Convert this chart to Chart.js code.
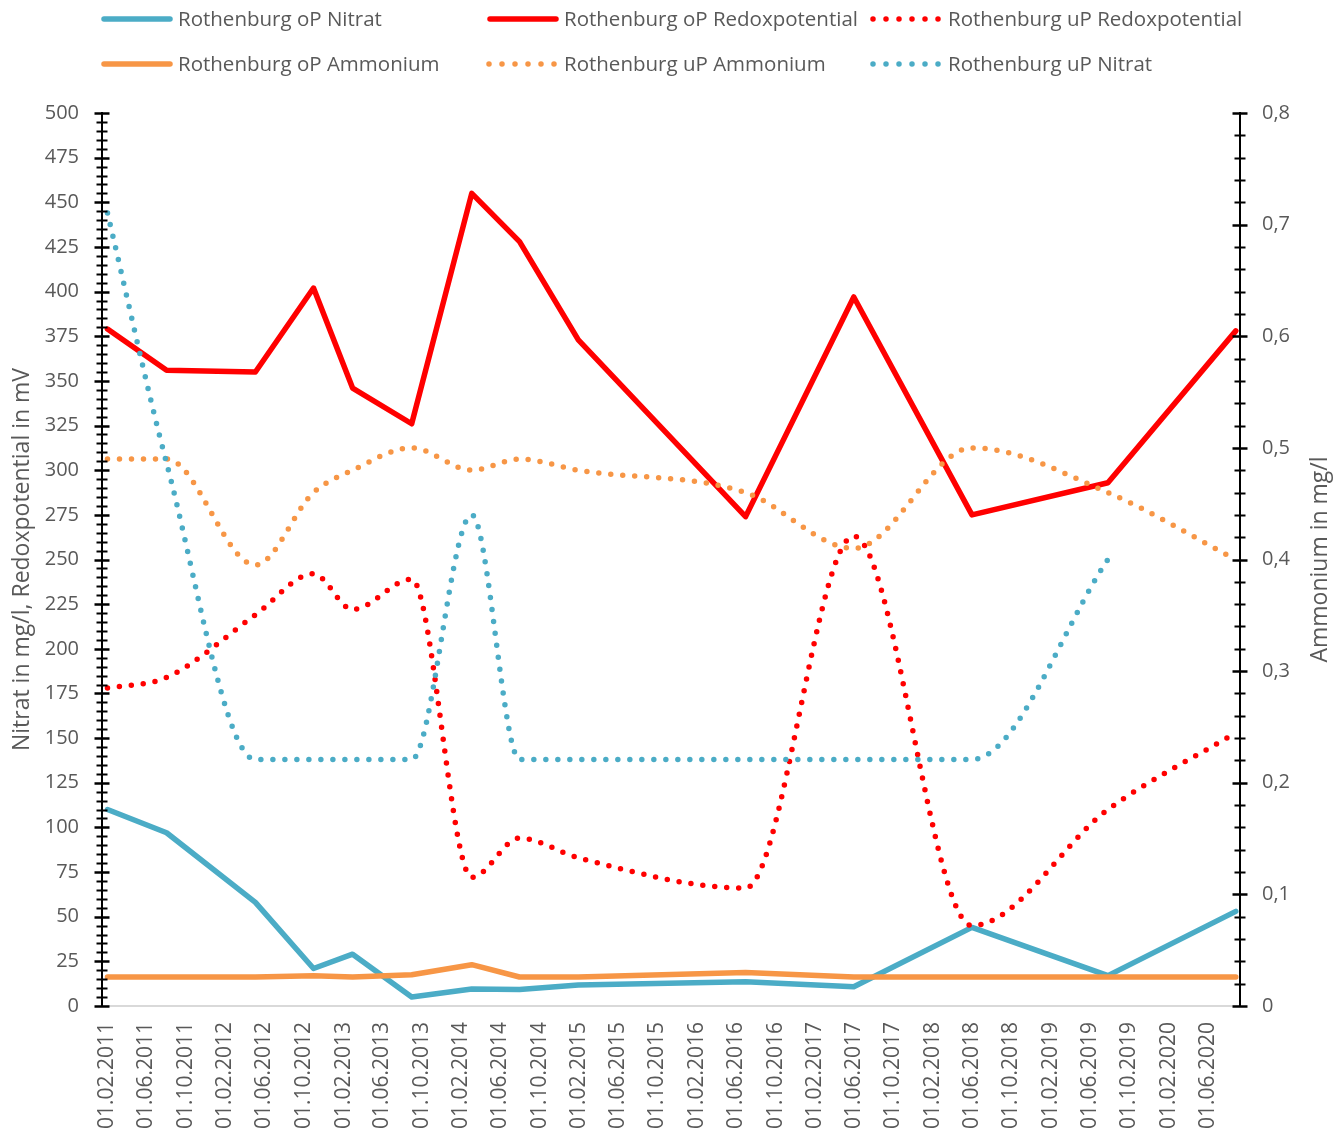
<!DOCTYPE html>
<html>
<head>
<meta charset="utf-8">
<script src="https://cdn.jsdelivr.net/npm/chart.js@4.4.1/dist/chart.umd.min.js"></script>
<style>
html,body{margin:0;padding:0;background:#ffffff;}
canvas{display:block;}
</style>
</head>
<body>
<canvas id="c" width="1343" height="1133"></canvas>
<script>
// ---------- DATA ----------
const sampleDates = ["01.02.2011","03.08.2011","04.05.2012","31.10.2012","01.03.2013","31.08.2013","05.03.2014","31.07.2014","29.01.2015","30.06.2016","31.05.2017","01.06.2018","27.07.2019","26.08.2020"];
const tickDates = ["01.02.2011","01.06.2011","01.10.2011","01.02.2012","01.06.2012","01.10.2012","01.02.2013","01.06.2013","01.10.2013","01.02.2014","01.06.2014","01.10.2014","01.02.2015","01.06.2015","01.10.2015","01.02.2016","01.06.2016","01.10.2016","01.02.2017","01.06.2017","01.10.2017","01.02.2018","01.06.2018","01.10.2018","01.02.2019","01.06.2019","01.10.2019","01.02.2020","01.06.2020"];
const axisStartDate = "15.01.2011";
const axisEndDate = "08.09.2020";

const seriesNames = ["Rothenburg oP Nitrat","Rothenburg oP Redoxpotential","Rothenburg uP Redoxpotential","Rothenburg oP Ammonium","Rothenburg uP Ammonium","Rothenburg uP Nitrat"];
const opNitrat = [110, 97, 58, 21, 29, 5, 9.5, 9.3, 11.8, 13.6, 10.8, 44, 17, 53];
const opRedox = [379, 356, 355, 402, 346, 326, 455, 428, 373, 274, 397, 275, 293, 378];
const upRedox = [178, 184, 219, 242, 222, 239, 72, 94, 83, 66, 263, 45, 110, 153];
const opAmmonium = [0.026, 0.026, 0.026, 0.027, 0.026, 0.028, 0.037, 0.026, 0.026, 0.030, 0.026, 0.026, 0.026, 0.026];
const upAmmonium = [0.49, 0.49, 0.395, 0.46, 0.48, 0.50, 0.48, 0.49, 0.48, 0.46, 0.41, 0.50, 0.46, 0.40];
const upNitrat = [444, 304, 138, 138, 138, 138, 275, 138, 138, 138, 138, 138, 250, null];

// ---------- HELPERS ----------
const BASE = Date.UTC(2011, 1, 1);
function dayNum(s) {
  const p = s.split('.').map(Number);
  return Math.round((Date.UTC(p[2], p[1] - 1, p[0]) - BASE) / 86400000);
}
const tickLabelByDay = {};
tickDates.forEach(d => { tickLabelByDay[dayNum(d)] = d; });
function pts(arr) {
  return sampleDates.map((d, i) => ({ x: dayNum(d), y: arr[i] }));
}

const BLUE = '#4BACC6', RED = '#FF0000', ORANGE = '#F79646';
const TXT = '#595959';
const FONT = "'Open Sans', 'Noto Sans', sans-serif";

function ds(label, arr, color, dotted, axis, order) {
  return {
    label: label,
    data: pts(arr),
    yAxisID: axis,
    borderColor: color,
    backgroundColor: color,
    borderWidth: 5.5,
    borderDash: dotted ? [0, 12] : [],
    borderCapStyle: 'round',
    borderJoinStyle: 'round',
    cubicInterpolationMode: dotted ? 'monotone' : 'default',
    tension: dotted ? 0.4 : 0,
    pointRadius: 0,
    pointHoverRadius: 0,
    fill: false,
    spanGaps: false,
    order: order,
    _dotted: dotted
  };
}

const datasets = [
  ds(seriesNames[0], opNitrat, BLUE, false, 'y', 6),
  ds(seriesNames[1], opRedox, RED, false, 'y', 5),
  ds(seriesNames[2], upRedox, RED, true, 'y', 4),
  ds(seriesNames[3], opAmmonium, ORANGE, false, 'y1', 3),
  ds(seriesNames[4], upAmmonium, ORANGE, true, 'y1', 2),
  ds(seriesNames[5], upNitrat, BLUE, true, 'y', 1)
];

// ---------- PLUGINS ----------
const legendPlugin = {
  id: 'excelLegend',
  afterDraw(chart) {
    const ctx = chart.ctx;
    const colX = [101, 487, 871];
    const rowY = [19, 64];
    ctx.save();
    chart.data.datasets.forEach((d, i) => {
      const col = i % 3, row = Math.floor(i / 3);
      const x = colX[col], y = rowY[row];
      ctx.beginPath();
      ctx.strokeStyle = d.borderColor;
      ctx.lineWidth = 5.5;
      ctx.lineCap = 'round';
      if (d._dotted) {
        ctx.setLineDash([0, 13]);
        ctx.moveTo(x + 2, y);
        ctx.lineTo(x + 68, y);
      } else {
        ctx.setLineDash([]);
        ctx.moveTo(x + 3, y);
        ctx.lineTo(x + 69, y);
      }
      ctx.stroke();
      ctx.setLineDash([]);
      ctx.fillStyle = TXT;
      ctx.font = "20.5px " + FONT;
      ctx.textAlign = 'left';
      ctx.textBaseline = 'middle';
      ctx.fillText(d.label, x + 77, y + 1);
    });
    ctx.restore();
  }
};

const axisDecor = {
  id: 'axisDecor',
  afterDraw(chart) {
    const ctx = chart.ctx;
    const y = chart.scales.y, y1 = chart.scales.y1;
    const xl = chart.chartArea.left, xr = chart.chartArea.right;
    ctx.save();
    ctx.strokeStyle = '#000000';
    ctx.setLineDash([]);
    ctx.lineCap = 'butt';
    for (let k = 0; k <= 100; k++) {
      const v = k * 5;
      const p = Math.round(y.getPixelForValue(v)) + 0.5;
      const major = (k % 5 === 0);
      const L = major ? 7.5 : 5.5;
      ctx.lineWidth = major ? 2.5 : 2;
      ctx.beginPath();
      ctx.moveTo(xl - L, p);
      ctx.lineTo(xl + L, p);
      ctx.stroke();
    }
    for (let k = 0; k <= 40; k++) {
      const v = k * 0.02;
      const p = Math.round(y1.getPixelForValue(v)) + 0.5;
      const major = (k % 5 === 0);
      const L = major ? 7.5 : 5.5;
      ctx.lineWidth = major ? 2.5 : 2;
      ctx.beginPath();
      ctx.moveTo(xr - L, p);
      ctx.lineTo(xr + L, p);
      ctx.stroke();
    }
    // right axis title (reads bottom to top)
    ctx.fillStyle = TXT;
    ctx.font = "23px " + FONT;
    ctx.textAlign = 'center';
    ctx.textBaseline = 'middle';
    ctx.translate(1320, (chart.chartArea.top + chart.chartArea.bottom) / 2);
    ctx.rotate(-Math.PI / 2);
    ctx.fillText('Ammonium in mg/l', 0, 0);
    ctx.restore();
  }
};

// ---------- CHART ----------
new Chart(document.getElementById('c'), {
  type: 'line',
  data: { datasets: datasets },
  options: {
    responsive: false,
    devicePixelRatio: 1,
    animation: false,
    events: [],
    layout: { padding: { top: 113, left: 0, right: 0, bottom: 0 } },
    plugins: {
      legend: { display: false },
      tooltip: { enabled: false },
      title: { display: false }
    },
    scales: {
      x: {
        type: 'linear',
        min: dayNum(axisStartDate),
        max: dayNum(axisEndDate),
        offset: false,
        grid: { display: false, drawTicks: false },
        border: { display: true, color: '#D9D9D9', width: 2 },
        afterBuildTicks: (scale) => {
          scale.ticks = tickDates.map(d => ({ value: dayNum(d) }));
        },
        afterFit: (scale) => { scale.height = 127; },
        ticks: {
          autoSkip: false,
          minRotation: 90,
          maxRotation: 90,
          padding: 16,
          color: TXT,
          font: { family: FONT, size: 21 },
          callback: (v) => tickLabelByDay[v] || ''
        }
      },
      y: {
        type: 'linear',
        position: 'left',
        min: 0,
        max: 500,
        grid: { display: false, drawTicks: false },
        border: { display: true, color: '#000000', width: 2 },
        afterFit: (scale) => { scale.width = 102; },
        ticks: {
          stepSize: 25,
          padding: 23,
          color: TXT,
          font: { family: FONT, size: 20 }
        },
        title: {
          display: true,
          text: 'Nitrat in mg/l, Redoxpotential in mV',
          color: TXT,
          font: { family: FONT, size: 23 },
          padding: { top: 9, bottom: 0 }
        }
      },
      y1: {
        type: 'linear',
        position: 'right',
        min: 0,
        max: 0.8,
        grid: { display: false, drawTicks: false },
        border: { display: true, color: '#000000', width: 2 },
        afterFit: (scale) => { scale.width = 103; },
        ticks: {
          stepSize: 0.1,
          padding: 22,
          color: TXT,
          font: { family: FONT, size: 20 },
          callback: (v) => (Math.abs(v) < 1e-9 ? '0' : v.toFixed(1).replace('.', ','))
        }
      }
    }
  },
  plugins: [legendPlugin, axisDecor]
});
</script>
</body>
</html>
